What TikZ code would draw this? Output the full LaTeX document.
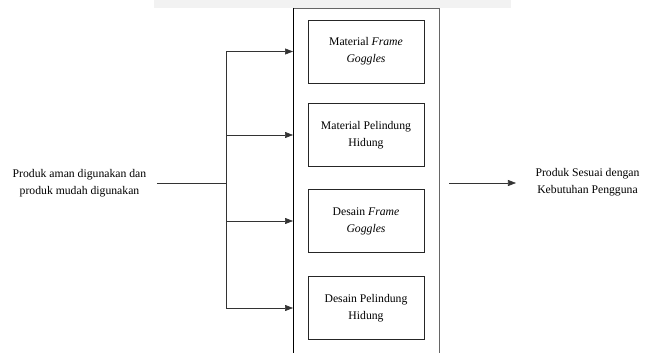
\documentclass[tikz,border=0pt]{standalone}
\usepackage{fontspec}
\setmainfont{Liberation Serif}
\usetikzlibrary{arrows.meta,positioning}
\tikzset{
  part/.style={draw=black!85, line width=0.6pt, minimum width=116pt, minimum height=63pt, align=center, inner sep=0pt},
  flow/.style={draw=black!80, line width=0.6pt, -{Triangle[length=8pt,width=6pt]}},
}
\begin{document}
\begin{tikzpicture}[x=1pt, y=-1pt, font=\fontsize{11.7}{17}\selectfont]
  \useasboundingbox (0,0) rectangle (654,353);
  \fill[black!5] (154,0) rectangle (511,8);
  % frame round the four parts
  \coordinate (frameL) at (293,8);
  \coordinate (frameR) at (439,8);
  \draw[black!60, line width=0.7pt] (frameL) -- (frameR) -- (439,353);
  \draw[line width=0.7pt] (frameL) -- (293,353);
  \node[part] (mat1) at (366,51.5) {Material \textit{Frame}\\\textit{Goggles}};
  \node[part] (mat2) at (366,135) {Material Pelindung\\Hidung};
  \node[part] (des1) at (366,221) {Desain \textit{Frame}\\\textit{Goggles}};
  \node[part] (des2) at (366,308) {Desain Pelindung\\Hidung};
  % input and output
  \node[align=center] (input) at (79.5,183.5) {Produk aman digunakan dan\\produk mudah digunakan};
  \node[align=center] (output) at (587.5,182.5) {Produk Sesuai dengan\\Kebutuhan Pengguna};
  \coordinate (split) at (226,183);
  \draw[black!80, line width=0.6pt, shorten <=7pt] (input.east |- split) -- (split);
  \draw[black!80, line width=0.6pt] (split |- mat1) -- (split |- des2);
  \foreach \b in {mat1,mat2,des1,des2}
    \draw[flow] (split |- \b) -- (frameL |- \b);
  \draw[flow, shorten >=16pt] ([xshift=10pt]frameR |- split) -- (output.west |- split);
\end{tikzpicture}
\end{document}
